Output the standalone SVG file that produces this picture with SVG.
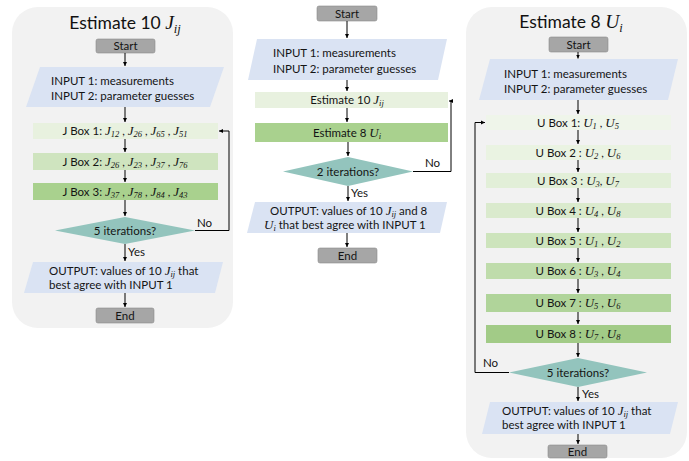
<svg xmlns="http://www.w3.org/2000/svg" width="689" height="461" viewBox="0 0 689 461">
  <style>
    .panel { fill: #f2f2f2; }
    .term { fill: #a6a6a6; stroke: #8c8c8c; stroke-width: 0.6; }
    .io { fill: #dae3f3; }
    .dec { fill: #93c4bd; }
    .t { font-family: Lato, "Liberation Sans", sans-serif; font-size: 11.5px; fill: #141414; }
    .title { font-family: Lato, "Liberation Sans", sans-serif; font-size: 17.5px; fill: #111; }
    .m { font-family: "Liberation Serif", "DejaVu Serif", serif; font-style: italic; font-size: 13px; }
    .mt { font-family: "Liberation Serif", "DejaVu Serif", serif; font-style: italic; font-size: 19.5px; }
    .s { font-family: "Liberation Serif", "DejaVu Serif", serif; font-style: italic; font-size: 8.5px; }
    .st { font-family: "Liberation Serif", "DejaVu Serif", serif; font-style: italic; font-size: 12.5px; }
    .c { stroke: #000; stroke-width: 1; fill: none; }
    .mid { text-anchor: middle; }
  </style>
  <defs>
    <marker id="ah" markerUnits="userSpaceOnUse" markerWidth="5" markerHeight="5" refX="4" refY="2.5" orient="auto">
      <path d="M0,0.5 L4,2.5 L0,4.5 Z" fill="#000"/>
    </marker>
  </defs>

  <!-- panel backgrounds -->
  <rect class="panel" x="12" y="7" width="221" height="321" rx="26"/>
  <rect class="panel" x="466" y="7" width="221" height="451" rx="26"/>

  <!-- ===== left flow: Estimate 10 J ===== -->
  <g id="left-title">
    <text class="title mid" x="125" y="29">Estimate 10 <tspan class="mt">J</tspan><tspan class="st" dy="4">ij</tspan></text>
  </g>
  <g id="left-start">
    <rect class="term" x="96" y="39" width="59" height="14" rx="2"/>
    <text class="t mid" x="125.5" y="50">Start</text>
  </g>
  <g id="left-input">
    <polygon class="io" points="40,67 224,67 210,107 26,107"/>
    <text class="t" x="51" y="85">INPUT 1: measurements</text>
    <text class="t" x="51" y="100">INPUT 2: parameter guesses</text>
  </g>
  <g id="jbox1">
    <rect x="33" y="123" width="185" height="16" fill="#e8f1df"/>
    <text class="t mid" x="125" y="135">J Box 1:  <tspan class="m">J</tspan><tspan class="s" dy="2">12</tspan><tspan dy="-2"> , </tspan><tspan class="m">J</tspan><tspan class="s" dy="2">26</tspan><tspan dy="-2"> , </tspan><tspan class="m">J</tspan><tspan class="s" dy="2">65</tspan><tspan dy="-2"> , </tspan><tspan class="m">J</tspan><tspan class="s" dy="2">51</tspan></text>
  </g>
  <g id="jbox2">
    <rect x="33" y="153" width="185" height="17" fill="#cfe4bf"/>
    <text class="t mid" x="125" y="165.5">J Box 2:  <tspan class="m">J</tspan><tspan class="s" dy="2">26</tspan><tspan dy="-2"> , </tspan><tspan class="m">J</tspan><tspan class="s" dy="2">23</tspan><tspan dy="-2"> , </tspan><tspan class="m">J</tspan><tspan class="s" dy="2">37</tspan><tspan dy="-2"> , </tspan><tspan class="m">J</tspan><tspan class="s" dy="2">76</tspan></text>
  </g>
  <g id="jbox3">
    <rect x="33" y="183" width="185" height="17" fill="#a9d18e"/>
    <text class="t mid" x="125" y="195.5">J Box 3:  <tspan class="m">J</tspan><tspan class="s" dy="2">37</tspan><tspan dy="-2"> , </tspan><tspan class="m">J</tspan><tspan class="s" dy="2">78</tspan><tspan dy="-2"> , </tspan><tspan class="m">J</tspan><tspan class="s" dy="2">84</tspan><tspan dy="-2"> , </tspan><tspan class="m">J</tspan><tspan class="s" dy="2">43</tspan></text>
  </g>
  <g id="left-decision">
    <polygon class="dec" points="125,217 195,230.5 125,244 55,230.5"/>
    <text class="t mid" x="125" y="235">5 iterations?</text>
  </g>
  <g id="left-output">
    <polygon class="io" points="33,262 223,262 215,293 24,293"/>
    <text class="t" x="49" y="275">OUTPUT: values of 10 <tspan class="m">J</tspan><tspan class="s" dy="2">ij</tspan><tspan dy="-2"> that</tspan></text>
    <text class="t" x="49" y="289">best agree with INPUT 1</text>
  </g>
  <g id="left-end">
    <rect class="term" x="96" y="308" width="58" height="15" rx="2"/>
    <text class="t mid" x="125" y="319.5">End</text>
  </g>

  <!-- ===== middle flow: alternate J and U estimation ===== -->
  <g id="mid-start">
    <rect class="term" x="317" y="6" width="60" height="15" rx="2"/>
    <text class="t mid" x="347" y="17.5">Start</text>
  </g>
  <g id="mid-input">
    <polygon class="io" points="257,39 447,39 438,80 248,80"/>
    <text class="t" x="273" y="57">INPUT 1: measurements</text>
    <text class="t" x="273" y="73">INPUT 2: parameter guesses</text>
  </g>
  <g id="mid-estj">
    <rect x="255" y="92" width="193" height="16" fill="#e8f1df"/>
    <text class="t mid" x="347" y="104">Estimate 10 <tspan class="m">J</tspan><tspan class="s" dy="2">ij</tspan></text>
  </g>
  <g id="mid-estu">
    <rect x="255" y="123" width="193" height="19" fill="#a9d18e"/>
    <text class="t mid" x="347" y="136.5">Estimate 8 <tspan class="m">U</tspan><tspan class="s" dy="2">i</tspan></text>
  </g>
  <g id="mid-decision">
    <polygon class="dec" points="348,157 413,171.5 348,186 283,171.5"/>
    <text class="t mid" x="348" y="176">2 iterations?</text>
  </g>
  <g id="mid-output">
    <polygon class="io" points="255,202 447,202 440,233 247,233"/>
    <text class="t" x="270" y="215">OUTPUT: values of 10 <tspan class="m">J</tspan><tspan class="s" dy="2">ij</tspan><tspan dy="-2"> and 8</tspan></text>
    <text class="t" x="264" y="229"><tspan class="m">U</tspan><tspan class="s" dy="2">i</tspan><tspan dy="-2"> that best agree with INPUT 1</tspan></text>
  </g>
  <g id="mid-end">
    <rect class="term" x="318" y="248" width="59" height="15" rx="2"/>
    <text class="t mid" x="347.5" y="259.5">End</text>
  </g>

  <!-- ===== right flow: Estimate 8 U ===== -->
  <g id="right-title">
    <text class="title mid" x="571" y="28">Estimate 8 <tspan class="mt">U</tspan><tspan class="st" dy="4">i</tspan></text>
  </g>
  <g id="right-start">
    <rect class="term" x="549" y="37" width="59" height="15" rx="2"/>
    <text class="t mid" x="578.5" y="48.5">Start</text>
  </g>
  <g id="right-input">
    <polygon class="io" points="490,59 678,59 668,100 479,100"/>
    <text class="t" x="504" y="78">INPUT 1: measurements</text>
    <text class="t" x="504" y="93">INPUT 2: parameter guesses</text>
  </g>
  <g id="ubox1">
    <rect x="486" y="115" width="185" height="15" fill="#eff5ea"/>
    <text class="t mid" x="578" y="126.5">U Box 1: <tspan class="m">U</tspan><tspan class="s" dy="2">1</tspan><tspan dy="-2"> , </tspan><tspan class="m">U</tspan><tspan class="s" dy="2">5</tspan></text>
  </g>
  <g id="ubox2">
    <rect x="486" y="145" width="185" height="15" fill="#eaf3e2"/>
    <text class="t mid" x="578" y="156.5">U Box 2 : <tspan class="m">U</tspan><tspan class="s" dy="2">2</tspan><tspan dy="-2"> , </tspan><tspan class="m">U</tspan><tspan class="s" dy="2">6</tspan></text>
  </g>
  <g id="ubox3">
    <rect x="486" y="173" width="185" height="15" fill="#e2efd8"/>
    <text class="t mid" x="578" y="184.5">U Box 3 : <tspan class="m">U</tspan><tspan class="s" dy="2">3</tspan><tspan dy="-2">, </tspan><tspan class="m">U</tspan><tspan class="s" dy="2">7</tspan></text>
  </g>
  <g id="ubox4">
    <rect x="486" y="203" width="185" height="15" fill="#daeacd"/>
    <text class="t mid" x="578" y="214.5">U Box 4 : <tspan class="m">U</tspan><tspan class="s" dy="2">4</tspan><tspan dy="-2"> , </tspan><tspan class="m">U</tspan><tspan class="s" dy="2">8</tspan></text>
  </g>
  <g id="ubox5">
    <rect x="486" y="233" width="185" height="15" fill="#cde4bc"/>
    <text class="t mid" x="578" y="244.5">U Box 5 : <tspan class="m">U</tspan><tspan class="s" dy="2">1</tspan><tspan dy="-2"> , </tspan><tspan class="m">U</tspan><tspan class="s" dy="2">2</tspan></text>
  </g>
  <g id="ubox6">
    <rect x="486" y="263" width="185" height="16" fill="#bfdcab"/>
    <text class="t mid" x="578" y="275">U Box 6 : <tspan class="m">U</tspan><tspan class="s" dy="2">3</tspan><tspan dy="-2"> , </tspan><tspan class="m">U</tspan><tspan class="s" dy="2">4</tspan></text>
  </g>
  <g id="ubox7">
    <rect x="486" y="294" width="185" height="18" fill="#b0d49a"/>
    <text class="t mid" x="578" y="307">U Box 7 : <tspan class="m">U</tspan><tspan class="s" dy="2">5</tspan><tspan dy="-2"> , </tspan><tspan class="m">U</tspan><tspan class="s" dy="2">6</tspan></text>
  </g>
  <g id="ubox8">
    <rect x="486" y="325" width="185" height="18" fill="#a2cb87"/>
    <text class="t mid" x="578" y="338">U Box 8 : <tspan class="m">U</tspan><tspan class="s" dy="2">7</tspan><tspan dy="-2"> , </tspan><tspan class="m">U</tspan><tspan class="s" dy="2">8</tspan></text>
  </g>
  <g id="right-decision">
    <polygon class="dec" points="578,358 647,372.5 578,387 509,372.5"/>
    <text class="t mid" x="578" y="377">5 iterations?</text>
  </g>
  <g id="right-output">
    <polygon class="io" points="490,402 678,402 670,434 482,434"/>
    <text class="t" x="502" y="415">OUTPUT: values of 10 <tspan class="m">J</tspan><tspan class="s" dy="2">ij</tspan><tspan dy="-2"> that</tspan></text>
    <text class="t" x="502" y="429">best agree with INPUT 1</text>
  </g>
  <g id="right-end">
    <rect class="term" x="548" y="445" width="59" height="13" rx="2"/>
    <text class="t mid" x="577.5" y="455.5">End</text>
  </g>

  <!-- ===== connectors ===== -->
  <g id="connectors">
    <!-- left -->
    <line class="c" x1="125" y1="53" x2="125" y2="66" marker-end="url(#ah)"/>
    <line class="c" x1="125" y1="107" x2="125" y2="122" marker-end="url(#ah)"/>
    <line class="c" x1="125" y1="139" x2="125" y2="152" marker-end="url(#ah)"/>
    <line class="c" x1="125" y1="170" x2="125" y2="182" marker-end="url(#ah)"/>
    <line class="c" x1="125" y1="200" x2="125" y2="216" marker-end="url(#ah)"/>
    <line class="c" x1="125" y1="244" x2="125" y2="261" marker-end="url(#ah)"/>
    <line class="c" x1="125" y1="293" x2="125" y2="307" marker-end="url(#ah)"/>
    <polyline class="c" points="195,230.5 229,230.5 229,131 219,131" marker-end="url(#ah)"/>
    <!-- middle -->
    <line class="c" x1="347" y1="21" x2="347" y2="38" marker-end="url(#ah)"/>
    <line class="c" x1="347" y1="80" x2="347" y2="91" marker-end="url(#ah)"/>
    <line class="c" x1="347" y1="108" x2="347" y2="122" marker-end="url(#ah)"/>
    <line class="c" x1="348" y1="142" x2="348" y2="156" marker-end="url(#ah)"/>
    <line class="c" x1="348" y1="186" x2="348" y2="201" marker-end="url(#ah)"/>
    <line class="c" x1="347" y1="233" x2="347" y2="247" marker-end="url(#ah)"/>
    <polyline class="c" points="413,171.5 451,171.5 451,101 449,101" marker-end="url(#ah)"/>
    <!-- right -->
    <line class="c" x1="578" y1="52" x2="578" y2="58.5" marker-end="url(#ah)"/>
    <line class="c" x1="578" y1="100" x2="578" y2="114" marker-end="url(#ah)"/>
    <line class="c" x1="578" y1="130" x2="578" y2="144" marker-end="url(#ah)"/>
    <line class="c" x1="578" y1="160" x2="578" y2="172" marker-end="url(#ah)"/>
    <line class="c" x1="578" y1="188" x2="578" y2="202" marker-end="url(#ah)"/>
    <line class="c" x1="578" y1="218" x2="578" y2="232" marker-end="url(#ah)"/>
    <line class="c" x1="578" y1="248" x2="578" y2="262" marker-end="url(#ah)"/>
    <line class="c" x1="578" y1="279" x2="578" y2="293" marker-end="url(#ah)"/>
    <line class="c" x1="578" y1="312" x2="578" y2="324" marker-end="url(#ah)"/>
    <line class="c" x1="578" y1="343" x2="578" y2="357" marker-end="url(#ah)"/>
    <line class="c" x1="578" y1="387" x2="578" y2="401" marker-end="url(#ah)"/>
    <line class="c" x1="578" y1="434" x2="578" y2="444" marker-end="url(#ah)"/>
    <polyline class="c" points="509,372.5 475,372.5 475,122.5 485,122.5" marker-end="url(#ah)"/>
    <!-- branch labels -->
    <text class="t" x="197" y="227">No</text>
    <text class="t" x="128" y="256">Yes</text>
    <text class="t" x="425" y="167">No</text>
    <text class="t" x="351" y="197">Yes</text>
    <text class="t" x="483" y="367">No</text>
    <text class="t" x="582" y="398">Yes</text>
  </g>
</svg>
